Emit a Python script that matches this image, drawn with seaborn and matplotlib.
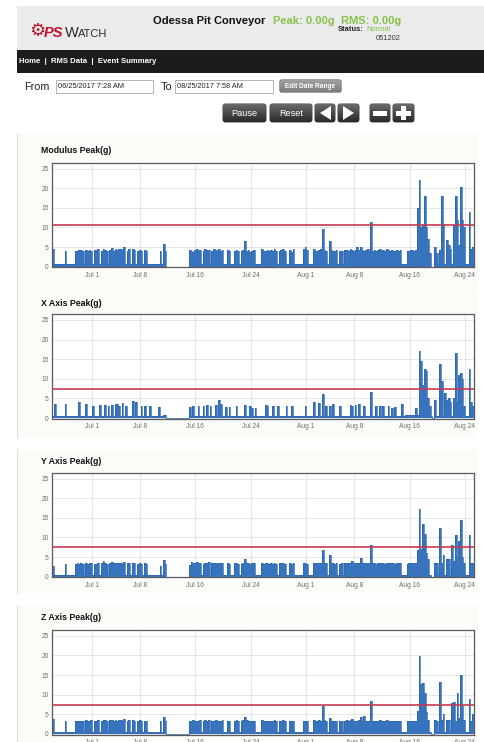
import matplotlib
matplotlib.use("Agg")
import matplotlib.pyplot as plt
from matplotlib.colors import LinearSegmentedColormap
from matplotlib.patches import FancyBboxPatch, Polygon, Rectangle
import numpy as np
import pandas as pd
import seaborn as sns

W, H = 485, 742

# ---------------- data ----------------
range_from = "2017-06-25 07:28"
range_to = "2017-08-25 07:58"
from_label = "06/25/2017 7:28 AM"
to_label = "08/25/2017 7:58 AM"

tick_dates = ["2017-07-01", "2017-07-08", "2017-07-16", "2017-07-24",
              "2017-08-01", "2017-08-08", "2017-08-16", "2017-08-24"]
tick_labels = ["Jul 1", "Jul 8", "Jul 16", "Jul 24", "Aug 1", "Aug 8", "Aug 16", "Aug 24"]
y_ticks = [0, 5, 10, 15, 20, 25]

panel_titles = ["Modulus Peak(g)", "X Axis Peak(g)", "Y Axis Peak(g)", "Z Axis Peak(g)"]
alarm_levels = [10.6, 7.5, 7.5, 7.5]

# peak g per 6 h bucket, one row per day starting Jun 25 07:28
modulus_peak = [
    [4.5, 0.6, 0.6, 0.6], [0.6, 0.6, 0.6, 4.0], [0.6, 0.6, 0.6, 0.6], [0.6, 4.0, 4.1, 4.2],
    [4.2, 4.0, 0.6, 4.2], [4.1, 4.3, 4.0, 0.6], [4.2, 4.0, 4.4, 0.6], [4.1, 4.6, 4.2, 4.0],
    [0.6, 4.3, 4.8, 4.1], [4.4, 4.2, 4.5, 4.6], [4.3, 4.9, 0.6, 4.1], [4.5, 0.6, 4.4, 4.2],
    [0.6, 4.0, 4.3, 4.1], [0.6, 4.2, 4.0, 0.6], [0.6, 0.6, 0.6, 0.6], [0.6, 0.6, 4.1, 0.6],
    [5.8, 4.0, 0.0, 0.0], [0.0, 0.0, 0.0, 0.0], [0.0, 0.0, 0.0, 0.0], [0.0, 0.0, 0.0, 4.3],
    [4.0, 3.8, 4.2, 4.4], [3.9, 4.3, 0.6, 4.0], [4.4, 4.2, 4.3, 0.6], [4.1, 4.5, 4.2, 4.0],
    [4.4, 4.1, 4.2, 0.6], [0.6, 4.2, 4.0, 0.6], [0.6, 4.0, 4.3, 4.1], [0.6, 4.0, 4.2, 6.5],
    [4.0, 4.3, 3.8, 4.1], [4.2, 0.6, 0.6, 0.6], [0.6, 4.4, 3.9, 4.0], [4.2, 4.0, 4.3, 4.0],
    [4.4, 3.9, 0.6, 4.1], [4.3, 4.5, 4.0, 0.6], [0.6, 4.2, 3.8, 4.4], [0.6, 0.6, 0.6, 0.6],
    [0.6, 4.6, 5.0, 4.2], [0.6, 0.6, 0.6, 4.5], [4.1, 4.0, 4.3, 4.4], [9.6, 4.2, 4.0, 0.6],
    [6.5, 4.3, 4.1, 4.0], [4.2, 0.6, 3.9, 4.1], [0.6, 4.3, 4.2, 4.1], [4.4, 4.2, 4.1, 4.3],
    [5.0, 4.3, 5.1, 4.2], [4.1, 4.2, 4.4, 4.0], [11.3, 4.1, 4.3, 4.0], [4.2, 4.4, 4.1, 4.3],
    [4.0, 4.6, 4.2, 4.1], [4.3, 4.1, 4.0, 4.2], [4.1, 4.3, 0.6, 0.6], [0.6, 4.0, 4.1, 4.2],
    [4.2, 4.0, 4.3, 15.0], [22.0, 10.0, 10.5, 18.0], [10.0, 7.0, 3.5, 0.0], [0.0, 4.9, 3.5, 0.6],
    [4.2, 18.0, 11.0, 0.6], [6.9, 5.5, 4.5, 0.6], [10.7, 18.0, 11.8, 5.5], [20.3, 12.0, 10.0, 0.6],
    [0.6, 14.0, 4.5, 5.0],
]
x_peak = [
    [0.5, 3.5, 0.5, 0.5], [0.5, 0.5, 0.5, 3.5], [0.5, 0.5, 0.5, 0.5], [0.5, 0.5, 0.5, 4.0],
    [0.5, 0.5, 0.5, 3.5], [0.5, 0.5, 0.5, 3.2], [0.5, 0.5, 0.5, 3.3], [0.5, 0.5, 3.3, 0.5],
    [3.2, 0.5, 3.4, 0.5], [3.5, 3.6, 3.2, 0.5], [3.8, 0.5, 3.0, 0.5], [0.5, 0.5, 4.3, 0.5],
    [4.2, 0.5, 0.5, 3.2], [0.5, 3.1, 0.5, 0.5], [3.2, 0.5, 0.5, 0.5], [0.5, 2.8, 0.5, 0.5],
    [0.8, 0.8, 0.0, 0.0], [0.0, 0.0, 0.0, 0.0], [0.0, 0.0, 0.0, 0.0], [0.0, 0.0, 0.0, 2.8],
    [0.5, 3.2, 0.5, 0.5], [3.0, 0.5, 0.5, 3.1], [0.5, 3.4, 0.5, 3.2], [0.5, 0.5, 3.3, 0.5],
    [4.5, 3.5, 0.5, 0.5], [2.8, 0.5, 2.8, 0.5], [0.5, 0.5, 3.0, 0.5], [0.5, 0.5, 0.5, 3.3],
    [0.5, 0.5, 3.0, 2.7], [0.5, 2.6, 0.5, 0.5], [0.5, 0.5, 0.5, 3.3], [3.0, 0.5, 0.5, 3.2],
    [0.5, 0.5, 3.2, 0.5], [0.5, 0.5, 0.5, 3.0], [0.5, 0.5, 3.0, 0.5], [0.5, 0.5, 0.5, 0.5],
    [0.5, 0.5, 3.2, 0.5], [0.5, 0.5, 0.5, 4.2], [0.5, 0.5, 3.8, 0.5], [6.2, 0.5, 3.0, 0.5],
    [3.2, 0.5, 3.5, 0.5], [0.5, 0.5, 3.0, 0.5], [0.5, 0.5, 0.5, 0.5], [3.3, 3.0, 0.5, 3.4],
    [0.5, 3.5, 0.5, 0.5], [3.2, 0.5, 0.5, 0.5], [6.7, 0.5, 0.5, 3.0], [0.5, 3.2, 0.5, 3.2],
    [0.5, 0.5, 3.0, 0.5], [2.5, 0.5, 2.8, 0.5], [0.5, 0.5, 3.6, 0.5], [0.8, 0.8, 0.8, 0.8],
    [0.8, 0.8, 2.5, 0.8], [17.0, 14.5, 8.5, 12.5], [12.0, 5.0, 3.0, 0.5], [0.0, 4.5, 0.5, 0.5],
    [13.8, 9.5, 0.5, 6.5], [4.5, 5.2, 4.0, 0.5], [5.0, 16.7, 4.0, 11.0], [11.5, 10.0, 3.0, 0.5],
    [0.5, 12.6, 4.0, 3.0],
]
y_peak = [
    [2.8, 0.5, 0.5, 0.5], [0.5, 0.5, 0.5, 3.2], [0.5, 0.5, 0.5, 0.5], [0.5, 3.3, 3.4, 3.3],
    [3.4, 3.2, 0.5, 3.5], [3.3, 3.4, 3.6, 0.5], [3.3, 3.2, 3.5, 0.5], [3.4, 3.9, 3.5, 3.3],
    [0.5, 3.6, 3.7, 3.4], [3.5, 3.4, 3.6, 3.6], [3.3, 3.8, 0.5, 3.4], [3.5, 0.5, 3.6, 3.4],
    [0.5, 3.3, 3.5, 3.2], [0.5, 3.4, 3.3, 0.5], [0.5, 0.5, 0.5, 0.5], [0.5, 0.5, 2.8, 0.5],
    [4.3, 3.2, 0.0, 0.0], [0.0, 0.0, 0.0, 0.0], [0.0, 0.0, 0.0, 0.0], [0.0, 0.0, 0.0, 3.0],
    [3.8, 3.6, 3.5, 3.7], [3.4, 3.6, 0.5, 3.3], [3.6, 3.5, 3.7, 0.5], [3.4, 3.6, 3.5, 3.3],
    [3.5, 3.4, 3.6, 0.5], [0.5, 3.5, 3.3, 0.5], [0.5, 3.4, 3.5, 3.3], [0.5, 3.3, 3.6, 4.5],
    [3.4, 3.5, 3.3, 3.4], [3.5, 0.5, 0.5, 0.5], [0.5, 3.6, 3.3, 3.4], [3.5, 3.3, 3.4, 3.3],
    [3.6, 3.3, 0.5, 3.4], [3.5, 3.6, 3.3, 0.5], [0.5, 3.4, 3.2, 3.5], [0.5, 0.5, 0.5, 0.5],
    [0.5, 3.4, 3.5, 3.3], [0.5, 0.5, 0.5, 3.6], [3.5, 3.4, 3.6, 3.5], [6.8, 3.6, 3.4, 0.5],
    [5.5, 3.5, 3.4, 3.3], [3.5, 0.5, 3.3, 3.4], [0.5, 3.5, 3.6, 3.4], [3.6, 4.0, 3.5, 3.4],
    [3.5, 3.6, 4.7, 3.5], [3.4, 3.5, 3.6, 3.3], [8.2, 3.4, 3.5, 3.3], [3.5, 3.6, 3.4, 3.5],
    [3.3, 3.6, 3.5, 3.4], [3.5, 3.4, 3.3, 3.5], [3.4, 3.6, 0.5, 0.5], [0.5, 3.3, 3.4, 3.5],
    [3.5, 3.4, 3.6, 6.8], [17.3, 7.0, 13.5, 11.0], [6.0, 4.5, 0.5, 0.0], [0.0, 3.5, 3.4, 0.5],
    [12.5, 3.5, 5.5, 0.5], [4.5, 4.4, 0.5, 8.0], [4.0, 10.5, 5.0, 9.0], [14.5, 5.0, 3.5, 0.5],
    [0.5, 10.5, 3.5, 3.6],
]
z_peak = [
    [3.8, 0.5, 0.5, 0.5], [0.5, 0.5, 0.5, 3.3], [0.5, 0.5, 0.5, 0.5], [0.5, 3.2, 3.4, 3.3],
    [3.4, 3.3, 0.5, 3.5], [3.3, 3.4, 3.5, 0.5], [3.4, 3.3, 3.5, 0.5], [3.4, 3.6, 3.5, 3.3],
    [0.5, 3.5, 3.6, 3.4], [3.5, 3.4, 3.5, 3.6], [3.3, 3.7, 0.5, 3.4], [3.5, 0.5, 3.6, 3.4],
    [0.5, 3.3, 3.5, 3.2], [0.5, 3.4, 3.3, 0.5], [0.5, 0.5, 0.5, 0.5], [0.5, 0.5, 3.2, 0.5],
    [4.2, 3.3, 0.0, 0.0], [0.0, 0.0, 0.0, 0.0], [0.0, 0.0, 0.0, 0.0], [0.0, 0.0, 0.0, 3.2],
    [3.4, 3.5, 3.3, 3.4], [3.3, 3.5, 0.5, 3.3], [3.5, 3.4, 3.5, 0.5], [3.3, 3.4, 3.5, 3.3],
    [3.4, 3.3, 3.5, 0.5], [0.5, 3.4, 3.3, 0.5], [0.5, 3.3, 3.5, 3.3], [0.5, 3.3, 3.5, 4.2],
    [3.6, 3.4, 3.3, 3.4], [3.4, 0.5, 0.5, 0.5], [0.5, 3.5, 3.3, 3.4], [3.4, 3.3, 3.4, 3.3],
    [3.5, 3.3, 0.5, 3.4], [3.4, 3.5, 3.3, 0.5], [0.5, 3.4, 3.2, 3.4], [0.5, 0.5, 0.5, 0.5],
    [0.5, 3.3, 3.4, 3.3], [0.5, 0.5, 0.5, 3.5], [3.4, 3.3, 3.5, 3.4], [7.2, 3.5, 3.4, 0.5],
    [4.0, 3.4, 3.3, 3.3], [3.4, 0.5, 3.3, 3.4], [0.5, 3.4, 3.5, 3.4], [3.5, 3.7, 3.4, 3.3],
    [3.4, 3.6, 4.2, 3.4], [4.5, 3.3, 3.4, 3.2], [8.5, 3.3, 3.4, 3.2], [3.4, 3.5, 3.3, 3.4],
    [3.3, 3.5, 3.4, 3.3], [3.4, 3.3, 3.2, 3.4], [3.3, 3.4, 0.5, 0.5], [0.5, 3.2, 3.3, 3.3],
    [3.3, 3.2, 3.4, 5.8], [19.8, 12.8, 13.0, 10.5], [5.5, 3.5, 0.5, 0.0], [0.0, 3.5, 3.3, 0.5],
    [13.3, 3.5, 5.0, 0.5], [3.5, 3.6, 0.5, 8.0], [8.2, 3.4, 10.5, 4.0], [15.0, 7.0, 3.5, 0.5],
    [0.5, 9.0, 3.3, 5.0],
]
series = [modulus_peak, x_peak, y_peak, z_peak]

# ---------------- layout (pixels) ----------------
panel_boxes = [(133, 290), (291, 438), (449, 593), (605, 742)]
axes_boxes = [(162.7, 267.3), (314, 418.7), (472.7, 577.3), (630, 734.5)]
title_y = [150.7, 303, 461.7, 618]
AX_L, AX_R = 52.5, 474

sns.set_theme(style="white")
plt.rcParams["font.family"] = ["Liberation Sans", "DejaVu Sans"]

fig = plt.figure(figsize=(W / 100, H / 100), dpi=100)
fig.patch.set_facecolor("white")
bg = fig.add_axes([0, 0, 1, 1], zorder=0)
bg.axis("off")


def rect_px(x0, y0, x1, y1):
    return [x0 / W, 1 - y1 / H, (x1 - x0) / W, (y1 - y0) / H]


def grad_button(x0, y0, x1, y1, top="#6a6a6a", bottom="#2a2a2a", r=2.5):
    patch = FancyBboxPatch((x0, y0), x1 - x0, y1 - y0,
                           boxstyle=f"round,pad=0,rounding_size={r}",
                           fc=bottom, ec="#222222", lw=0.6, zorder=2)
    bg.add_patch(patch)
    cmap = LinearSegmentedColormap.from_list("btn", [top, bottom])
    im = bg.imshow(np.linspace(0, 1, 32).reshape(-1, 1), cmap=cmap, aspect="auto",
                   extent=(x0, x1, y1, y0), origin="upper", zorder=2.1)
    im.set_clip_path(patch)


# header
bg.add_patch(Rectangle((17, 6), W - 17, 44, fc="#ebebeb", ec="none"))
bg.add_patch(Rectangle((17, 50), W - 17, 23, fc="#1c1c1c", ec="none"))
bg.text(37, 31, "\u2699", family=["DejaVu Sans"], fontsize=13, color="#c4122f",
        ha="center", va="center", fontweight="bold")
bg.text(44, 33, "PS", fontsize=10.5, color="#c4122f", fontweight="bold",
        style="italic", ha="left", va="center")
bg.text(65, 33, "W", fontsize=10.5, color="#2b2b2b", ha="left", va="center")
bg.text(77.5, 33.8, "ATCH", fontsize=8, color="#2b2b2b", ha="left", va="center")
bg.text(153, 20.5, "Odessa Pit Conveyor", fontsize=8.0, fontweight="bold",
        color="#111111", ha="left", va="center")
bg.text(273, 20.5, "Peak: 0.00g", fontsize=8.0, fontweight="bold",
        color="#86c24a", ha="left", va="center")
bg.text(341, 20.5, "RMS: 0.00g", fontsize=8.0, fontweight="bold",
        color="#86c24a", ha="left", va="center")
bg.text(364, 29.5, "Status:", fontsize=5.4, fontweight="bold", color="#222222",
        ha="right", va="center")
bg.text(366, 29.5, "Normal", fontsize=5.4, color="#86c24a", ha="left", va="center")
bg.text(401, 38.7, "051202", fontsize=5.4, color="#333333", ha="right", va="center")
bg.text(19, 61.5, "Home  |  RMS Data  |  Event Summary", fontsize=5.6,
        fontweight="bold", color="white", ha="left", va="center")

# date range row
bg.text(24, 86.5, "From", fontsize=7.8, color="#222222", ha="left", va="center")
bg.text(161, 87, "To", fontsize=7.8, color="#222222", ha="left", va="center")
for x0, x1, label in [(56, 153, from_label), (175, 273, to_label)]:
    bg.add_patch(Rectangle((x0, 80), x1 - x0, 13, fc="white", ec="#a8a8a8", lw=0.6))
    bg.text(x0 + 2, 86.5, label, fontsize=5.3, color="#222222", ha="left", va="center")
grad_button(280, 80, 341, 92, top="#a0a0a0", bottom="#7e7e7e", r=1.5)
bg.text(310.5, 86, "Edit Date Range", fontsize=4.7, fontweight="bold", color="white",
        ha="center", va="center", zorder=3)

# control buttons
for x0, x1 in [(223, 266), (270, 312), (315, 335), (338, 359), (370, 390), (393, 414)]:
    grad_button(x0, 104, x1, 122)
bg.text(244.5, 113, "Pause", fontsize=6.6, color="white", ha="center", va="center", zorder=3)
bg.text(291, 113, "Reset", fontsize=6.6, color="white", ha="center", va="center", zorder=3)
bg.add_patch(Polygon([(320, 113), (331, 106), (331, 120)], fc="white", ec="none", zorder=3))
bg.add_patch(Polygon([(343, 106), (343, 120), (354, 113)], fc="white", ec="none", zorder=3))
bg.add_patch(Rectangle((373, 110.5), 14, 5, fc="white", ec="none", zorder=3))
bg.add_patch(Rectangle((396, 110.5), 15, 5, fc="white", ec="none", zorder=3))
bg.add_patch(Rectangle((401, 106), 5, 14, fc="white", ec="none", zorder=3))

# chart panels
for (py0, py1), ty, title in zip(panel_boxes, title_y, panel_titles):
    bg.add_patch(Rectangle((17, py0), 461, py1 - py0, fc="#fbfbf8", ec="none", zorder=1))
    bg.plot([17.5, 17.5], [py0, py1], color="#dedede", lw=0.8, zorder=1.1)
    bg.text(41, ty, title, fontsize=6.3, fontweight="bold", color="#111111",
            ha="left", va="center", zorder=1.2)

bg.set_xlim(0, W)
bg.set_ylim(H, 0)

t0 = pd.Timestamp(range_from)
t1 = pd.Timestamp(range_to)
ticks = pd.to_datetime(tick_dates)

for (ay0, ay1), rows, level in zip(axes_boxes, series, alarm_levels):
    vals = list(np.ravel(rows))
    times = list(pd.date_range(t0, periods=len(vals), freq="6h")) + [t1]
    df = pd.DataFrame({"time": times, "g": vals + [vals[-1]]})

    ax = fig.add_axes(rect_px(AX_L, ay0, AX_R, ay1), zorder=2)
    ax.set_facecolor("white")
    ax.fill_between(df["time"], df["g"], step="post", color="#3874bd", lw=0, zorder=2)
    sns.lineplot(data=df, x="time", y="g", ax=ax, drawstyle="steps-post",
                 color="#2c67ae", lw=0.5, zorder=3)
    ax.axhline(level, color="#c43a52", lw=1.2, zorder=4)

    ax.set_xlim(t0, t1)
    ax.set_ylim(-0.15, 26.5)
    ax.set_xticks(ticks)
    ax.set_xticklabels(tick_labels)
    ax.set_yticks(y_ticks)
    ax.set_xlabel("")
    ax.set_ylabel("")
    ax.grid(True, color="#e2e2e2", lw=0.6, zorder=0)
    ax.set_axisbelow(True)
    ax.tick_params(axis="both", length=0, labelsize=4.8, labelcolor="#6f6f6f")
    ax.tick_params(axis="x", pad=3.2)
    ax.tick_params(axis="y", pad=2.8)
    for sp in ax.spines.values():
        sp.set_visible(True)
        sp.set_color("#5a5a5a")
        sp.set_linewidth(0.9)

fig.savefig("out.png", dpi=100)
